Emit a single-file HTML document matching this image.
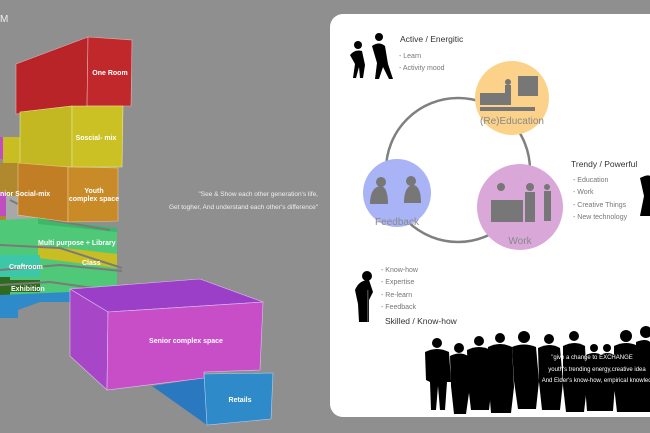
<!DOCTYPE html>
<html><head><meta charset="utf-8"><style>
html,body{margin:0;padding:0;background:#8f8f8f;}
svg{display:block;font-family:"Liberation Sans",sans-serif;}
</style></head><body>
<svg width="650" height="433" viewBox="0 0 650 433" xmlns="http://www.w3.org/2000/svg">
<rect width="650" height="433" fill="#8f8f8f"/>
<text x="0" y="22" font-size="10" fill="#eee">M</text>
<!-- left side fragments -->
<rect x="0" y="137" width="4" height="22" fill="#c04ec0"/>
<polygon points="3,137 20,137 20,166 3,166" fill="#c8bd22"/>
<polygon points="0,163 20,163 20,222 0,222" fill="#b0892e"/>
<rect x="0" y="192" width="6" height="24" fill="#c04ec0"/>
<polygon points="6,196 30,196 36,220 6,220" fill="#a8a8a8"/>
<!-- green block -->
<polygon points="0,220 38,218 117,228 117,292 70,300 0,300" fill="#4fc878"/>
<polygon points="38,218 117,228 117,232 38,224" fill="#3db86a"/>
<polygon points="38,245 117,254 117,268 38,258" fill="#c8bd22"/>
<rect x="0" y="255" width="40" height="22" fill="#3cc8a8"/>
<rect x="0" y="277" width="10" height="25" fill="#2f6a1e"/>
<rect x="10" y="280" width="30" height="12" fill="#2f6a1e"/>
<polygon points="0,295 70,292 70,302 107,312 107,330 70,318 70,302 40,302 18,310 18,318 0,318" fill="#2e8ac8"/>
<g stroke="#7a7a7a" stroke-width="2" fill="none">
<path d="M0,245 L60,248 L122,268"/><path d="M0,270 L60,265 L122,271"/><path d="M0,285 L50,282 L122,292"/><path d="M10,200 L50,220 L110,230"/>
</g>
<text x="38" y="245" font-size="7" fill="#fff" font-weight="bold">Multi purpose + Library</text>
<text x="82" y="265" font-size="7" fill="#fff" font-weight="bold">Class</text>
<text x="9" y="269" font-size="7" fill="#fff" font-weight="bold">Craftroom</text>
<text x="11" y="291" font-size="7" fill="#fff" font-weight="bold">Exhibition</text>
<!-- red -->
<polygon points="16,64 88,37 87,106 16,114" fill="#b82428" stroke="#e8b0b0" stroke-width="0.6"/>
<polygon points="88,37 132,40 131,106 87,106" fill="#c0282c" stroke="#e8b0b0" stroke-width="0.6"/>
<text x="110" y="75" font-size="7" fill="#fff" font-weight="bold" text-anchor="middle">One Room</text>
<!-- yellow -->
<polygon points="20,112 72,106 72,167 20,165" fill="#c3b722" stroke="#e8e8a0" stroke-width="0.6"/>
<polygon points="72,106 123,106 122,167 72,167" fill="#ccc124" stroke="#e8e8a0" stroke-width="0.6"/>
<text x="96" y="140" font-size="7" fill="#fff" font-weight="bold" text-anchor="middle">Soscial- mix</text>
<!-- orange -->
<polygon points="18,163 68,167 68,222 18,215" fill="#c27e24" stroke="#e8c890" stroke-width="0.6"/>
<polygon points="68,167 118,168 118,221 68,222" fill="#c98a28" stroke="#e8c890" stroke-width="0.6"/>
<text x="94" y="193" font-size="7" fill="#fff" font-weight="bold" text-anchor="middle">Youth</text>
<text x="94" y="201" font-size="7" fill="#fff" font-weight="bold" text-anchor="middle">complex space</text>
<text x="0" y="196" font-size="7" fill="#fff" font-weight="bold">nior Social-mix</text>
<!-- senior -->
<polygon points="152,386 204,378 207,425" fill="#2a78c0"/>
<polygon points="204,374 273,373 271,419 207,425" fill="#2e8ac8" stroke="#b0d0f0" stroke-width="0.6"/>
<text x="240" y="402" font-size="7" fill="#fff" font-weight="bold" text-anchor="middle">Retails</text>
<polygon points="70,289 200,279 263,302 108,312" fill="#9b3fc8" stroke="#e0c0f0" stroke-width="0.6"/>
<polygon points="70,289 108,312 107,390 70,356" fill="#a846c8" stroke="#e0c0f0" stroke-width="0.6"/>
<polygon points="108,312 263,302 260,370 204,372 204,378 107,390" fill="#c84ec8" stroke="#e0c0f0" stroke-width="0.6"/>
<text x="186" y="343" font-size="7" fill="#fff" font-weight="bold" text-anchor="middle">Senior complex space</text>
<text x="318" y="196" font-size="6.5" fill="#eee" text-anchor="end">"See &amp; Show each other generation's life,</text>
<text x="318" y="209" font-size="6.5" fill="#eee" text-anchor="end">Get togher, And understand each other's difference"</text>
<!-- right panel -->
<rect x="330" y="14" width="340" height="403" rx="13" fill="#fff"/>
<circle cx="458" cy="170" r="72" fill="none" stroke="#808080" stroke-width="2.5"/>
<circle cx="512" cy="98" r="37" fill="#fcd28a"/>
<circle cx="397" cy="193" r="34" fill="#a9b4f6"/>
<circle cx="520" cy="207" r="43" fill="#d9a8d9"/>
<g fill="#777">
<rect x="518" y="76" width="20" height="20"/><rect x="480" y="107" width="55" height="4"/>
<rect x="480" y="93" width="25" height="12"/><circle cx="508" cy="82" r="3"/><rect x="505" y="85" width="6" height="20"/>
<circle cx="381" cy="182" r="5"/><path d="M370,204 q0,-18 12,-18 q6,3 6,18z"/>
<circle cx="411" cy="181" r="5"/><path d="M404,203 q0,-18 10,-18 q7,2 7,18z"/>
<rect x="491" y="200" width="32" height="22"/><circle cx="501" cy="187" r="4"/><circle cx="530" cy="187" r="4"/>
<rect x="525" y="192" width="10" height="30"/><circle cx="547" cy="187" r="3"/><rect x="544" y="191" width="7" height="30"/>
</g>
<g font-size="10" fill="#888" text-anchor="middle">
<text x="512" y="124">(Re)Education</text><text x="397" y="225">Feedback</text><text x="520" y="244">Work</text>
</g>
<g font-size="8.5" fill="#333"><text x="400" y="42">Active / Energitic</text><text x="571" y="167">Trendy /  Powerful</text><text x="385" y="324">Skilled / Know-how</text></g>
<g font-size="7" fill="#777">
<text x="399" y="58">- Learn</text><text x="399" y="70">- Activity mood</text>
<text x="573" y="182">- Education</text><text x="573" y="194">- Work</text><text x="573" y="207">- Creative Things</text><text x="573" y="219">- New technology</text>
<text x="381" y="272">- Know-how</text><text x="381" y="284">- Expertise</text><text x="381" y="297">- Re-learn</text><text x="381" y="309">- Feedback</text>
</g>
<g fill="#000">
<circle cx="358" cy="45" r="4"/><path d="M350,55 q5,-6 12,-4 l3,14 l-2,13 h-3 l-1,-11 l-3,11 h-3 l2,-14z"/>
<circle cx="379" cy="37" r="4"/><path d="M372,46 q7,-5 13,0 l3,18 l5,15 h-4 l-6,-12 l-4,12 h-4 l2,-16z"/>
<circle cx="367" cy="276" r="5"/><path d="M355,290 q4,-10 14,-10 l4,12 l-4,8 v22 h-10 l-1,-18z"/><rect x="367" y="290" width="1.5" height="32" fill="#444"/>
<path d="M640,178 q8,-4 10,-2 v40 h-10 l4,-20z"/>
</g>
<g fill="#000">
<circle cx="437" cy="343" r="5"/><path d="M425,352 q12,-6 24,0 l2,30 h-4 l-2,28 h-5 l-2,-24 l-2,24 h-5 l-1,-28 l-4,-2z"/>
<circle cx="459" cy="348" r="5"/><path d="M450,356 q10,-5 18,0 l2,30 l-4,28 h-12 l-3,-28z"/>
<circle cx="479" cy="341" r="5"/><path d="M467,350 q12,-6 24,0 l1,34 l-3,26 h-18 l-3,-26z"/>
<circle cx="500" cy="338" r="5"/><path d="M488,347 q12,-6 24,0 l2,40 l-3,26 h-20 l-2,-26z"/>
<circle cx="524" cy="337" r="6"/><path d="M512,347 q12,-5 24,0 l3,34 l-3,28 h-18 l-4,-28z"/>
<circle cx="549" cy="339" r="5"/><path d="M538,348 q12,-6 22,0 l3,34 l-3,28 h-18 l-3,-28z"/>
<circle cx="574" cy="336" r="5"/><path d="M563,346 q12,-6 22,0 l2,40 l-3,26 h-18 l-3,-26z"/>
<circle cx="594" cy="348" r="4"/><path d="M586,355 q8,-4 16,0 l1,30 l-2,26 h-14 l-2,-26z"/>
<circle cx="607" cy="348" r="4"/><path d="M600,355 q8,-4 14,0 l1,30 l-2,26 h-12 l-2,-26z"/>
<circle cx="626" cy="336" r="6"/><path d="M614,346 q12,-6 24,0 l2,40 l-3,26 h-20 l-3,-26z"/>
<circle cx="646" cy="332" r="6"/><path d="M636,342 q10,-4 14,0 v70 h-14z"/>
</g>
<g font-size="6" fill="#fff" text-anchor="middle">
<text x="592" y="359">"give a change to EXCHANGE</text>
<text x="597" y="371">youth's trending energy,creative idea</text>
<text x="600" y="382">And Elder's know-how, empirical knowledge</text>
</g>
</svg>
</body></html>
